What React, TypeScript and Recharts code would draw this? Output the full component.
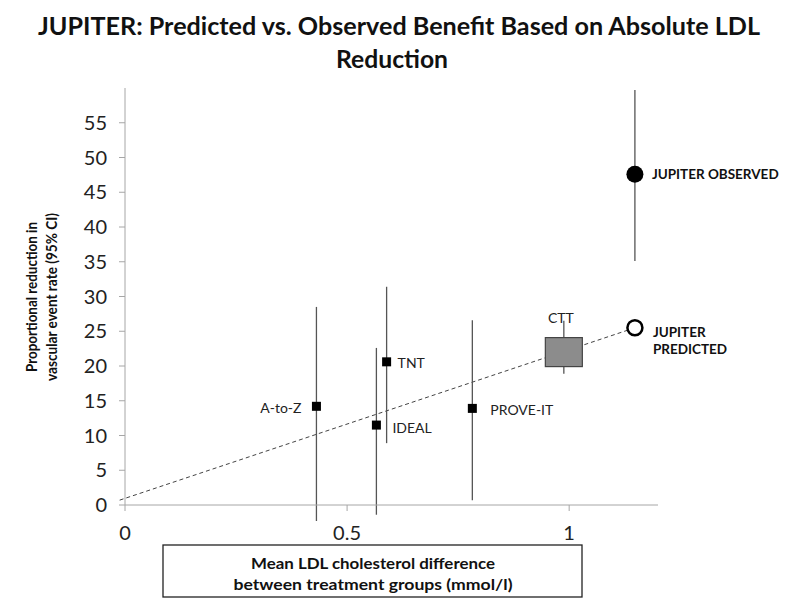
import { ScatterChart, Scatter, XAxis, YAxis, ErrorBar, ReferenceLine } from 'recharts';

// trials (small black squares)
const studies = ['A-to-Z', 'IDEAL', 'TNT', 'PROVE-IT'];
const studyLdl = [0.431, 0.566, 0.589, 0.782];
const studyReduction = [14.2, 11.5, 20.6, 13.9];
const studyCiLow = [-2.3, -1.4, 8.9, 0.7];
const studyCiHigh = [28.5, 22.6, 31.4, 26.6];

// CTT meta-analysis
const cttLdl = [0.988];
const cttReduction = [22.0];
const cttCiLow = [18.9];
const cttCiHigh = [26.5];

// JUPITER
const observedLdl = [1.148];
const observedReduction = [47.6];
const observedCiLow = [35.1];
const observedCiHigh = [59.7];
const predictedLdl = [1.148];
const predictedReduction = [25.5];

// CTT regression line
const trendLdl = [-0.012, 1.148];
const trendReduction = [0.7, 25.5];

const xTicks = [0, 0.5, 1];
const yTicks = [0, 5, 10, 15, 20, 25, 30, 35, 40, 45, 50, 55];

const FONT = 'Lato, "Open Sans", sans-serif';

const withCi = (names: string[], xs: number[], ys: number[], lo: number[], hi: number[]) =>
  xs.map((x, i) => ({ name: names[i], x, y: ys[i], err: [ys[i] - lo[i], hi[i] - ys[i]] }));

const studyData = withCi(studies, studyLdl, studyReduction, studyCiLow, studyCiHigh);
const cttData = withCi(['CTT'], cttLdl, cttReduction, cttCiLow, cttCiHigh);
const observedData = withCi(['JUPITER OBSERVED'], observedLdl, observedReduction, observedCiLow, observedCiHigh);
const predictedData = predictedLdl.map((x, i) => ({ x, y: predictedReduction[i] }));

const labelOffset: Record<string, number> = { 'A-to-Z': -15, IDEAL: 16, TNT: 11, 'PROVE-IT': 18 };

const StudyShape = (props: any) => {
  const { cx, cy, payload } = props;
  const off = labelOffset[payload.name] ?? 12;
  return (
    <g>
      <rect x={cx - 4.5} y={cy - 4.5} width={9} height={9} fill="#000" />
      <text
        x={cx + off}
        y={cy + (payload.name === 'IDEAL' ? 2 : 1)}
        textAnchor={off < 0 ? 'end' : 'start'}
        dominantBaseline="central"
        fontFamily={FONT}
        fontSize={14}
        fill="#222"
      >
        {payload.name}
      </text>
    </g>
  );
};

const CttShape = (props: any) => {
  const { cx, cy } = props;
  return (
    <g>
      <rect x={cx - 18.5} y={cy - 14.5} width={37} height={29} fill="#8c8c8c" stroke="#444" strokeWidth={1.2} />
      <text x={cx - 3} y={cy - 35} textAnchor="middle" dominantBaseline="central" fontFamily={FONT} fontSize={14} fill="#222">
        CTT
      </text>
    </g>
  );
};

const ObservedShape = (props: any) => {
  const { cx, cy } = props;
  return (
    <g>
      <circle cx={cx} cy={cy} r={8.5} fill="#000" />
      <text x={cx + 17} y={cy} dominantBaseline="central" fontFamily={FONT} fontWeight="bold" fontSize={13.5} fill="#111">
        JUPITER OBSERVED
      </text>
    </g>
  );
};

const PredictedShape = (props: any) => {
  const { cx, cy } = props;
  return (
    <g>
      <circle cx={cx} cy={cy} r={7.5} fill="#fff" stroke="#000" strokeWidth={2.5} />
      <text x={cx + 18} y={cy + 4} dominantBaseline="central" fontFamily={FONT} fontWeight="bold" fontSize={13.5} fill="#111">
        JUPITER
      </text>
      <text x={cx + 18} y={cy + 21} dominantBaseline="central" fontFamily={FONT} fontWeight="bold" fontSize={13.5} fill="#111">
        PREDICTED
      </text>
    </g>
  );
};

const tickStyle = { fontFamily: FONT, fontSize: 20, fill: '#222' };

export default function App() {
  return (
    <div style={{ position: 'absolute', left: 0, top: 0, width: 800, height: 600, background: '#fff' }}>
      {/* CIs run a little below zero in the original, so let them draw past the plot edge */}
      <style>{'.recharts-surface g { clip-path: none !important; }'}</style>
      <ScatterChart width={800} height={600} margin={{ top: 88, right: 142, bottom: 65, left: 65 }}>
        <XAxis
          type="number"
          dataKey="x"
          domain={[0, 1.2]}
          allowDataOverflow
          ticks={xTicks}
          height={30}
          stroke="#a6a6a6"
          tickSize={6}
          tickMargin={15}
          tick={tickStyle}
        />
        <YAxis
          type="number"
          dataKey="y"
          domain={[0, 60]}
          allowDataOverflow
          ticks={yTicks}
          width={60}
          stroke="#a6a6a6"
          tickSize={6}
          tickMargin={12}
          tick={tickStyle}
        />
        <ReferenceLine
          segment={[
            { x: trendLdl[0], y: trendReduction[0] },
            { x: trendLdl[1], y: trendReduction[1] },
          ]}
          stroke="#444"
          strokeDasharray="4 3"
          strokeWidth={1}
          ifOverflow="visible"
        />
        <Scatter data={studyData} shape={StudyShape} isAnimationActive={false}>
          <ErrorBar dataKey="err" direction="y" width={0} stroke="#555" strokeWidth={1.3} />
        </Scatter>
        <Scatter data={cttData} shape={CttShape} isAnimationActive={false}>
          <ErrorBar dataKey="err" direction="y" width={0} stroke="#555" strokeWidth={1.3} />
        </Scatter>
        <Scatter data={observedData} shape={ObservedShape} isAnimationActive={false}>
          <ErrorBar dataKey="err" direction="y" width={0} stroke="#555" strokeWidth={1.3} />
        </Scatter>
        <Scatter data={predictedData} shape={PredictedShape} isAnimationActive={false} />
      </ScatterChart>

      <svg width={800} height={600} style={{ position: 'absolute', left: 0, top: 0, pointerEvents: 'none' }}>
        <text x={399} y={35} textAnchor="middle" fontFamily={FONT} fontWeight="bold" fontSize={25} fill="#111"
          textLength={722} lengthAdjust="spacingAndGlyphs">
          JUPITER: Predicted vs. Observed Benefit Based on Absolute LDL
        </text>
        <text x={392} y={68} textAnchor="middle" fontFamily={FONT} fontWeight="bold" fontSize={25} fill="#111"
          textLength={112} lengthAdjust="spacingAndGlyphs">
          Reduction
        </text>

        <g transform="translate(31,297) rotate(-90)">
          <text x={0} y={0} textAnchor="middle" dominantBaseline="central" fontFamily={FONT} fontWeight="bold"
            fontSize={14.5} fill="#111" textLength={150} lengthAdjust="spacingAndGlyphs">
            Proportional reduction in
          </text>
        </g>
        <g transform="translate(51,297) rotate(-90)">
          <text x={0} y={0} textAnchor="middle" dominantBaseline="central" fontFamily={FONT} fontWeight="bold"
            fontSize={14.5} fill="#111" textLength={168} lengthAdjust="spacingAndGlyphs">
            vascular event rate (95% CI)
          </text>
        </g>

        <rect x={163} y={545} width={419} height={52} fill="#fff" stroke="#222" strokeWidth={1.3} />
        <text x={373} y={562} textAnchor="middle" dominantBaseline="central" fontFamily={FONT} fontWeight="bold"
          fontSize={16} fill="#111" textLength={244} lengthAdjust="spacingAndGlyphs">
          Mean LDL cholesterol difference
        </text>
        <text x={373} y={583} textAnchor="middle" dominantBaseline="central" fontFamily={FONT} fontWeight="bold"
          fontSize={16} fill="#111" textLength={279} lengthAdjust="spacingAndGlyphs">
          between treatment groups (mmol/l)
        </text>
      </svg>
    </div>
  );
}
